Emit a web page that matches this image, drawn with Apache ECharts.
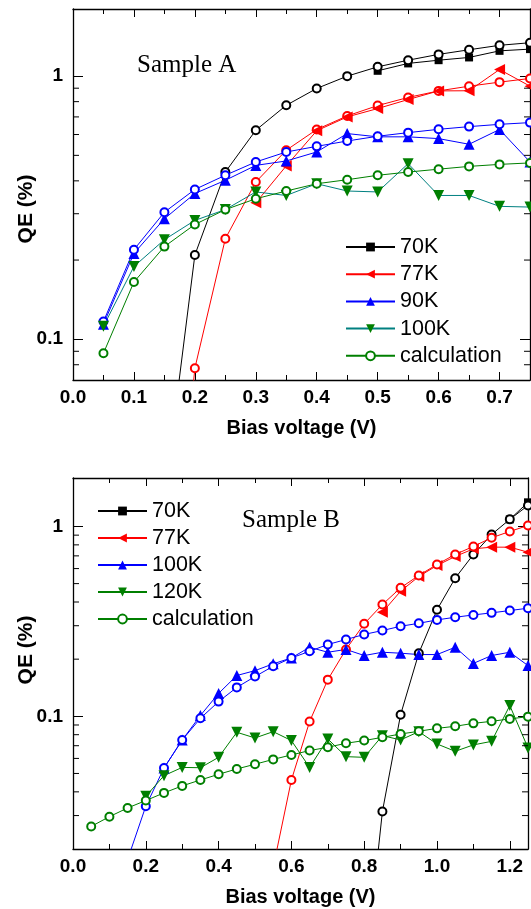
<!DOCTYPE html>
<html>
<head>
<meta charset="utf-8">
<script src="https://cdn.jsdelivr.net/npm/echarts@6/dist/echarts.min.js"></script>
<style>
  html, body { margin: 0; padding: 0; background: #fff; }
  #chart { width: 531px; height: 909px; }
</style>
</head>
<body>
<div id="chart"></div>
<script>
// Sample A: bias voltage 0.05 .. 0.75 V
const voltsA = [0.05, 0.1, 0.15, 0.2, 0.25, 0.3, 0.35, 0.4, 0.45, 0.5, 0.55, 0.6, 0.65, 0.7, 0.75];
const a70K = [null, null, null, null, null, null, null, null, null, 1.048, 1.118, 1.15, 1.178, 1.248, 1.267];
const a70Calc = [null, null, 0.025, 0.209, 0.432, 0.623, 0.775, 0.898, 1.0, 1.085, 1.15, 1.21, 1.26, 1.31, 1.34];
const a77K = [null, null, null, null, null, 0.33, 0.456, 0.62, 0.70, 0.753, 0.815, 0.879, 0.88, 1.06, 0.916];
const a77Calc = [null, null, 0.005, 0.0776, 0.241, 0.396, 0.523, 0.627, 0.706, 0.773, 0.83, 0.879, 0.916, 0.949, 0.98];
const a90K = [0.114, 0.212, 0.287, 0.358, 0.402, 0.458, 0.476, 0.515, 0.605, 0.588, 0.588, 0.579, 0.551, 0.627, 0.472];
const a90Calc = [0.1168, 0.219, 0.304, 0.371, 0.42, 0.472, 0.515, 0.541, 0.567, 0.591, 0.61, 0.628, 0.643, 0.656, 0.666];
const a100K = [0.112, 0.189, 0.239, 0.283, 0.311, 0.363, 0.352, 0.39, 0.366, 0.363, 0.465, 0.352, 0.352, 0.32, 0.318];
const a100Calc = [0.0885, 0.165, 0.225, 0.273, 0.311, 0.342, 0.366, 0.39, 0.404, 0.42, 0.432, 0.443, 0.454, 0.462, 0.468];

// Sample B: bias voltage 0.05 .. 1.25 V
const voltsB = [0.05, 0.1, 0.15, 0.2, 0.25, 0.3, 0.35, 0.4, 0.45, 0.5, 0.55, 0.6, 0.65,
  0.7, 0.75, 0.8, 0.85, 0.9, 0.95, 1.0, 1.05, 1.1, 1.15, 1.2, 1.25];
const b70K = [null, null, null, null, null, null, null, null, null, null, null, null, null,
  null, null, null, null, null, null, null, null, null, null, 1.09, 1.34];
const b70Calc = [null, null, null, null, null, null, null, null, null, null, null, null, null,
  null, null, 0.004, 0.0315, 0.102, 0.215, 0.364, 0.534, 0.712, 0.907, 1.09, 1.29];
const b77K = [null, null, null, null, null, null, null, null, null, null, null, null, null,
  null, null, null, 0.353, 0.456, 0.545, 0.623, 0.695, 0.762, 0.778, 0.778, 0.732];
const b77Calc = [null, null, null, null, null, null, null, null, null, null, 0.016, 0.0462, 0.0938,
  0.156, 0.225, 0.307, 0.388, 0.475, 0.552, 0.631, 0.712, 0.785, 0.872, 0.941, 1.012];
const b100K = [null, null, null, null, 0.0534, 0.075, 0.101, 0.132, 0.164, 0.174, 0.189, 0.203, 0.231,
  0.2175, 0.225, 0.209, 0.2175, 0.215, 0.2115, 0.2115, 0.231, 0.19, 0.209, 0.2175, 0.185];
const b100Calc = [null, null, 0.0176, 0.0336, 0.0534, 0.075, 0.0976, 0.1195, 0.142, 0.162, 0.1835, 0.203, 0.22,
  0.239, 0.2537, 0.27, 0.283, 0.298, 0.309, 0.322, 0.3325, 0.342, 0.3507, 0.3606, 0.371];
const b120K = [null, null, null, 0.0379, 0.0487, 0.0538, 0.0536, 0.0608, 0.0824, 0.0769, 0.083, 0.0745, 0.0538,
  0.076, 0.0613, 0.0608, 0.0791, 0.0751, 0.083, 0.0715, 0.0654, 0.0707, 0.0738, 0.1139, 0.0681];
const b120Calc = [0.0263, 0.0296, 0.0329, 0.036, 0.0395, 0.043, 0.0462, 0.0495, 0.0528, 0.0559, 0.0593, 0.0626, 0.066,
  0.0687, 0.0721, 0.0745, 0.0775, 0.0807, 0.0834, 0.0864, 0.0886, 0.0918, 0.0941, 0.0969, 0.0996];

// axis ticks
const yLabelTicks = [0.1, 1];
const yMinorA = [0.08, 0.09, 0.2, 0.3, 0.4, 0.5, 0.6, 0.7, 0.8, 0.9];
const yMinorB = [0.03, 0.04, 0.05, 0.06, 0.07, 0.08, 0.09, 0.2, 0.3, 0.4, 0.5, 0.6, 0.7, 0.8, 0.9];

const chart = echarts.init(document.getElementById("chart"));

const FONT = "Liberation Sans";
const BLACK = "#000";
const RED = "#ff0000";
const BLUE = "#0000ff";
const GREEN = "#007f00";
const TEAL = "#008080";

const SQUARE = "rect";
const TRI_LEFT = "path://M0,5 L10,0 L10,10 Z";
const TRI_UP = "path://M5,0 L10,10 L0,10 Z";
const TRI_DOWN = "path://M0,0 L10,0 L5,10 Z";

function pairs(xs, ys) {
  const out = [];
  xs.forEach((x, i) => {
    if (ys[i] != null) out.push([x, ys[i]]);
  });
  return out;
}

function lineSeries(name, grid, xs, ys, color, symbol, opts = {}) {
  const empty = symbol === "emptyCircle";
  return {
    type: "line",
    name: name,
    xAxisIndex: grid * 2,
    yAxisIndex: grid * 2,
    data: pairs(xs, ys),
    symbol: symbol,
    symbolSize: opts.size || (empty ? 8 : 10),
    showAllSymbol: true,
    clip: true,
    lineStyle: { color: opts.lineColor || color, width: 1 },
    itemStyle: { color: color, borderColor: color, borderWidth: empty ? 1 : 0 },
    emphasis: { disabled: true },
    z: opts.z || 2,
  };
}

function minorTicks(grid, values, xMax) {
  return {
    type: "custom",
    xAxisIndex: grid * 2,
    yAxisIndex: grid * 2,
    data: values.map((v) => [0, v]),
    silent: true,
    z: 10,
    renderItem: (params, api) => {
      const v = api.value(1);
      const pl = api.coord([0, v]);
      const pr = api.coord([xMax, v]);
      const st = { stroke: BLACK, lineWidth: 1 };
      return {
        type: "group",
        children: [
          { type: "line", shape: { x1: pl[0], y1: pl[1], x2: pl[0] + 6, y2: pl[1] }, style: st },
          { type: "line", shape: { x1: pr[0], y1: pr[1], x2: pr[0] - 6, y2: pr[1] }, style: st },
        ],
      };
    },
  };
}

const axisLine = { onZero: false, lineStyle: { color: BLACK, width: 1.3 } };
const tickLabel = { fontFamily: FONT, fontWeight: "bold", fontSize: 19, color: BLACK };

function xAxes(grid, max, interval) {
  return [
    {
      type: "value", gridIndex: grid, position: "bottom", min: 0, max: max, interval: interval,
      axisLine: axisLine,
      axisTick: { inside: true, length: 8, lineStyle: { color: BLACK, width: 1 } },
      minorTick: { show: true, splitNumber: 2, length: 5, lineStyle: { color: BLACK, width: 1 } },
      axisLabel: Object.assign({ margin: 8, showMaxLabel: false, formatter: (v) => v.toFixed(1) }, tickLabel),
      splitLine: { show: false },
      name: "Bias voltage (V)", nameLocation: "middle", nameGap: 38,
      nameTextStyle: { fontFamily: FONT, fontWeight: "bold", fontSize: 20, color: BLACK },
    },
    {
      type: "value", gridIndex: grid, position: "top", min: 0, max: max, interval: interval,
      axisLine: axisLine,
      axisTick: { inside: true, length: 8, lineStyle: { color: BLACK, width: 1 } },
      minorTick: { show: true, splitNumber: 2, length: 5, lineStyle: { color: BLACK, width: 1 } },
      axisLabel: { show: false },
      splitLine: { show: false },
    },
  ];
}

function yAxes(grid, min, max) {
  const base = {
    type: "log", logBase: 10, gridIndex: grid, min: min, max: max,
    axisLine: axisLine,
    axisTick: { inside: true, length: 10, lineStyle: { color: BLACK, width: 1 } },
    splitLine: { show: false },
  };
  return [
    Object.assign({}, base, {
      position: "left",
      axisLabel: Object.assign({
        margin: 10, showMinLabel: false, showMaxLabel: false,
        formatter: (v) => (yLabelTicks.some((t) => Math.abs(t - v) < 1e-9) ? String(v) : ""),
      }, tickLabel),
    }),
    Object.assign({}, base, { position: "right", axisLabel: { show: false } }),
  ];
}

const legendText = { fontFamily: FONT, fontSize: 21.5, color: BLACK };
const sampleText = { fontFamily: "Liberation Serif", fontWeight: "normal", fontSize: 25, color: BLACK };

chart.setOption({
  animation: false,
  backgroundColor: "#fff",
  title: [
    { text: "Sample A", left: 137, top: 53, padding: 0, textStyle: sampleText },
    { text: "Sample B", left: 242, top: 508, padding: 0, textStyle: sampleText },
  ],
  graphic: [
    { type: "text", x: 26, y: 209, rotation: Math.PI / 2,
      style: { text: "QE (%)", font: "bold 21px " + FONT, fill: BLACK, textAlign: "center", textVerticalAlign: "middle" } },
    { type: "text", x: 26, y: 650, rotation: Math.PI / 2,
      style: { text: "QE (%)", font: "bold 21px " + FONT, fill: BLACK, textAlign: "center", textVerticalAlign: "middle" } },
  ],
  legend: [
    {
      orient: "vertical", left: 345, top: 236, padding: 0, itemWidth: 49, itemHeight: 11, itemGap: 5.2,
      selectedMode: false, textStyle: legendText, formatter: (n) => n.slice(2),
      data: ["A 70K", "A 77K", "A 90K", "A 100K", "A calculation"],
    },
    {
      orient: "vertical", left: 97, top: 500, padding: 0, itemWidth: 49, itemHeight: 11, itemGap: 5,
      selectedMode: false, textStyle: legendText, formatter: (n) => n.slice(2),
      data: ["B 70K", "B 77K", "B 100K", "B 120K", "B calculation"],
    },
  ],
  grid: [
    { left: 73, right: 1, top: 9, height: 371 },
    { left: 73, right: 3, top: 478, height: 371 },
  ],
  xAxis: [].concat(xAxes(0, 0.75, 0.1), xAxes(1, 1.25, 0.2)),
  yAxis: [].concat(yAxes(0, 0.07, 1.8), yAxes(1, 0.02, 1.8)),
  series: [
    lineSeries("A 70K", 0, voltsA, a70K, BLACK, SQUARE, { size: 8 }),
    lineSeries("A calc70", 0, voltsA, a70Calc, BLACK, "emptyCircle"),
    lineSeries("A calc77", 0, voltsA, a77Calc, RED, "emptyCircle"),
    lineSeries("A 77K", 0, voltsA, a77K, RED, TRI_LEFT, { size: 11 }),
    lineSeries("A 90K", 0, voltsA, a90K, BLUE, TRI_UP, { size: 11 }),
    lineSeries("A calc90", 0, voltsA, a90Calc, BLUE, "emptyCircle"),
    lineSeries("A 100K", 0, voltsA, a100K, GREEN, TRI_DOWN, { size: 11, lineColor: TEAL }),
    lineSeries("A calculation", 0, voltsA, a100Calc, GREEN, "emptyCircle"),
    minorTicks(0, yMinorA, 0.75),

    lineSeries("B 70K", 1, voltsB, b70K, BLACK, SQUARE, { size: 8 }),
    lineSeries("B calc70", 1, voltsB, b70Calc, BLACK, "emptyCircle"),
    lineSeries("B 77K", 1, voltsB, b77K, RED, TRI_LEFT, { size: 11 }),
    lineSeries("B calc77", 1, voltsB, b77Calc, RED, "emptyCircle"),
    lineSeries("B 100K", 1, voltsB, b100K, BLUE, TRI_UP, { size: 11 }),
    lineSeries("B calc100", 1, voltsB, b100Calc, BLUE, "emptyCircle"),
    lineSeries("B 120K", 1, voltsB, b120K, GREEN, TRI_DOWN, { size: 11 }),
    lineSeries("B calculation", 1, voltsB, b120Calc, GREEN, "emptyCircle"),
    minorTicks(1, yMinorB, 1.25),
  ],
});

window.addEventListener("resize", () => chart.resize());
</script>
</body>
</html>
